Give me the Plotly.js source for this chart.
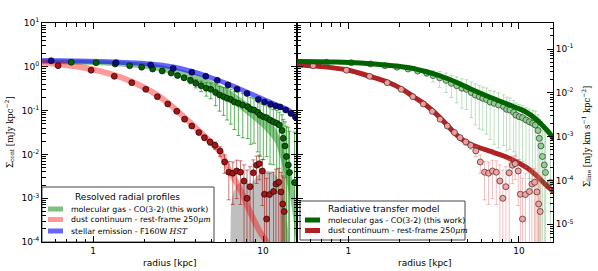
<!DOCTYPE html>
<html>
<head>
<meta charset="utf-8">
<script src="https://cdn.plot.ly/plotly-3.0.1.min.js"></script>
<style>html,body{margin:0;padding:0;background:#fff;}#chart{width:598px;height:271px;}</style>
</head>
<body>
<div id="chart"></div>
<script>
// ---------------- data ----------------
// stellar emission (F160W HST), left panel, continuum units
var stellarR = [0.566, 1.365, 2.18, 2.96, 3.81, 4.60, 5.38, 6.22, 7.03, 8.05, 9.38, 10.2, 11.07, 11.85, 12.6, 13.6, 14.6, 15.5];
var stellarS = [1.38, 1.24, 1.10, 0.92, 0.75, 0.61, 0.49, 0.384, 0.308, 0.246, 0.179, 0.157, 0.14, 0.127, 0.121, 0.103, 0.086, 0.071];
var stellarFitR = [0.501, 1.099, 2.165, 2.96, 3.72, 4.55, 5.59, 6.88, 8.39, 10.27, 12.6, 14.4, 15.85];
var stellarFitS = [1.393, 1.321, 1.159, 0.989, 0.802, 0.633, 0.474, 0.346, 0.2455, 0.1746, 0.124, 0.098, 0.0678];

// molecular gas CO(3-2) profile
var coR = [0.743, 1.041, 1.347, 1.64, 1.93, 2.24, 2.55, 2.88, 3.14, 3.43, 3.74, 4.02, 4.32, 4.63, 4.93, 5.26, 5.55, 5.86, 6.14, 6.46, 6.78, 7.16, 7.60, 8.13, 8.47, 8.85, 9.31, 9.60, 10.04, 10.5, 11.0, 11.5, 12.04, 12.47, 12.94, 13.16, 13.47, 13.75, 14.09, 14.32, 15.32];
var coS = [1.27, 1.24, 1.16, 1.06, 0.98, 0.89, 0.80, 0.72, 0.63, 0.56, 0.49, 0.42, 0.37, 0.324, 0.306, 0.259, 0.227, 0.208, 0.191, 0.179, 0.157, 0.147, 0.134, 0.123, 0.107, 0.103, 0.0914, 0.079, 0.0726, 0.0689, 0.061, 0.0558, 0.0513, 0.0469, 0.0351, 0.0233, 0.0156, 0.00896, 0.00573, 0.00386, 0.00228];
var coErrLeft = [0.025, 0.025, 0.025, 0.03, 0.03, 0.03, 0.04, 0.05, 0.06, 0.07, 0.08, 0.09, 0.10, 0.11, 0.12, 0.13, 0.13, 0.13, 0.13, 0.13, 0.12, 0.12, 0.11, 0.10, 0.09, 0.085, 0.08, 0.07, 0.065, 0.06, 0.055, 0.05, 0.05, 0.045, 0.045, 0.04, 0.04, 0.035, 0.035, 0.03, 0.03];
var coErrRight = [0.03, 0.03, 0.03, 0.03, 0.04, 0.05, 0.08, 0.12, 0.18, 0.22, 0.23, 0.22, 0.22, 0.21, 0.2, 0.19, 0.18, 0.17, 0.155, 0.15, 0.135, 0.13, 0.12, 0.107, 0.095, 0.09, 0.08, 0.07, 0.065, 0.062, 0.056, 0.053, 0.05, 0.05, 0.045, 0.04, 0.04, 0.035, 0.035, 0.03, 0.03];
// CO band (lower / upper envelope)
var coBandR = [0.501, 1.099, 2.165, 3.036, 4.26, 5.22, 6.4, 7.84, 8.97, 10.27, 11.77, 12.6, 13.47, 14.4, 15.2, 15.85];
var coBandLo = [1.159, 1.082, 0.868, 0.65, 0.416, 0.273, 0.1614, 0.0881, 0.0579, 0.0361, 0.0187, 0.00873, 0.00321, 0.00106, 0.000271, 0.0000455];
var coBandHi = [1.507, 1.407, 1.19, 0.939, 0.633, 0.438, 0.288, 0.1656, 0.1146, 0.0753, 0.0411, 0.0225, 0.0102, 0.00464, 0.0018, 0.000459];

// dust continuum, rest-frame 250 micron
var dustR = [0.622, 0.973, 1.332, 1.689, 2.042, 2.389, 2.75, 3.105, 3.453, 3.807, 4.19, 4.52, 4.88, 5.22, 5.59, 5.94, 6.29, 6.64, 7.0, 7.37, 7.73, 8.05, 8.39, 8.77, 9.16, 9.51, 9.91, 10.2, 10.5, 10.92, 11.53, 11.92, 12.37, 12.76, 13.06, 13.33];
var dustS = [1.06, 0.836, 0.607, 0.434, 0.306, 0.208, 0.1415, 0.0964, 0.0636, 0.0445, 0.0316, 0.0241, 0.0192, 0.0161, 0.012, 0.0067, 0.00392, 0.00372, 0.00418, 0.00392, 0.00247, 0.000995, 0.00183, 0.0038, 0.00567, 0.00614, 0.00418, 0.00123, 0.000335, 0.00121, 0.00142, 0.00211, 0.00231, 0.00139, 0.000738, 0.000497];
var dustErr = [0.02, 0.02, 0.015, 0.01, 0.008, 0.006, 0.005, 0.004, 0.003, 0.003, 0.003, 0.003, 0.003, 0.003, 0.003, 0.003, 0.003, 0.003, 0.0032, 0.0032, 0.0033, 0.0034, 0.0034, 0.0037, 0.0035, 0.0035, 0.0035, 0.0025, 0.0025, 0.0025, 0.0025, 0.0025, 0.0025, 0.0025, 0.0025, 0.0025];
var dustFitR = [0.501, 0.64, 0.838, 1.099, 1.442, 1.889, 2.478, 3.036, 3.72, 4.26, 4.88, 5.59, 6.4, 7.33, 8.39, 9.6, 10.5, 11.0];
var dustFitS = [1.25, 1.13, 0.99, 0.80, 0.585, 0.374, 0.205, 0.109, 0.0535, 0.0325, 0.0197, 0.01135, 0.00396, 0.00162, 0.000484, 0.000169, 0.0001, 0.00006];

// grey shaded region (left panel)
var greyR = [6.35, 6.48, 6.7, 7.03, 7.42, 7.83, 8.27, 8.62, 9.1, 9.86, 10.7, 11.5, 12.1, 12.76, 13.47, 14.03, 14.4];
var greyS = [0.00001, 0.0007, 0.00139, 0.002, 0.00234, 0.00247, 0.00211, 0.0022, 0.00305, 0.00396, 0.00418, 0.00396, 0.00305, 0.00154, 0.0006, 0.000188, 0.00001];

// radiative transfer model (right panel)
var rtCoR = [0.501, 0.784, 1.177, 1.766, 2.315, 2.837, 3.477, 4.26, 5.22, 6.4, 7.84, 9.6, 11.0, 12.6, 14.4, 16.07];
var rtCoS = [0.0519, 0.0506, 0.048, 0.042, 0.0369, 0.0307, 0.0242, 0.01766, 0.01222, 0.00869, 0.00634, 0.00462, 0.00365, 0.00252, 0.00149, 0.000883];
var rtDustR = [0.501, 0.684, 0.987, 1.347, 1.695, 2.078, 2.411, 2.762, 3.165, 3.624, 4.09, 4.56, 5.08, 5.82, 6.84, 8.16, 9.73, 11.3, 12.94, 14.4, 16.07];
var rtDustS = [1.099, 1.016, 0.845, 0.601, 0.45, 0.306, 0.2076, 0.1468, 0.0944, 0.0564, 0.0342, 0.0231, 0.01774, 0.01438, 0.01165, 0.00919, 0.0067, 0.00477, 0.00305, 0.002, 0.00139];

// tick labels
var xTickVals = [1, 10];
var xTickText = ['1', '10'];
var yContTickVals = [1e-4, 1e-3, 1e-2, 1e-1, 1e0, 1e1];
var yContTickText = ['10<sup>-4</sup>', '10<sup>-3</sup>', '10<sup>-2</sup>', '10<sup>-1</sup>', '10<sup>0</sup>', '10<sup>1</sup>'];
var yLineTickVals = [1e-5, 1e-4, 1e-3, 1e-2, 1e-1];
var yLineTickText = ['10<sup>-5</sup>', '10<sup>-4</sup>', '10<sup>-3</sup>', '10<sup>-2</sup>', '10<sup>-1</sup>'];

// ---------------- helpers ----------------
function minorLog(lo, hi) {
  var out = [];
  for (var e = lo; e <= hi; e++) {
    for (var m = 2; m <= 9; m++) out.push(m * Math.pow(10, e));
  }
  return out;
}
var W = 598, H = 271;
function px(x) { return x / W; }
function py(y) { return 1 - y / H; }

var FONT = 'DejaVu Sans';
var SERIF = 'DejaVu Serif';

var xMinor = minorLog(-1, 1);
var xBase = {
  type: 'log', range: [-0.301, 1.2], showline: true, linecolor: '#000', linewidth: 1,
  mirror: 'ticks', ticks: 'inside', ticklen: 6, tickwidth: 1, tickcolor: '#000',
  tickmode: 'array', tickvals: xTickVals, ticktext: xTickText,
  tickfont: {family: FONT, size: 9, color: '#000'},
  minor: {tickmode: 'array', tickvals: xMinor, ticks: 'inside', ticklen: 3.5, tickwidth: 1, tickcolor: '#000'},
  showgrid: false, zeroline: false
};
function clone(o, extra) { var c = JSON.parse(JSON.stringify(o)); for (var k in extra) c[k] = extra[k]; return c; }

var yDom = [29 / H, 248 / H];
var yBase = {
  type: 'log', range: [-4, 1], domain: yDom, showline: true, linecolor: '#000', linewidth: 1,
  ticks: 'inside', ticklen: 6, tickwidth: 1, tickcolor: '#000',
  tickmode: 'array', tickvals: yContTickVals, ticktext: yContTickText,
  tickfont: {family: FONT, size: 9, color: '#000'},
  minor: {tickmode: 'array', tickvals: minorLog(-4, 0), ticks: 'inside', ticklen: 3.5, tickwidth: 1, tickcolor: '#000'},
  showgrid: false, zeroline: false
};

var traces = [];
// ---- left panel ----
traces.push({x: greyR, y: greyS, xaxis: 'x', yaxis: 'y', mode: 'lines', fill: 'toself',
  fillcolor: 'rgba(128,128,128,0.5)', line: {width: 0}, hoverinfo: 'skip', showlegend: false});
traces.push({x: coBandR, y: coBandLo, xaxis: 'x', yaxis: 'y', mode: 'lines', line: {width: 0, shape: 'spline'},
  hoverinfo: 'skip', showlegend: false});
traces.push({x: coBandR, y: coBandHi, xaxis: 'x', yaxis: 'y', mode: 'lines', fill: 'tonexty',
  fillcolor: 'rgba(0,128,0,0.45)', line: {width: 0, shape: 'spline'}, hoverinfo: 'skip', showlegend: false});
traces.push({x: stellarFitR, y: stellarFitS, xaxis: 'x', yaxis: 'y', mode: 'lines',
  line: {color: 'rgba(0,0,255,0.6)', width: 5, shape: 'spline'}, showlegend: false});
traces.push({x: dustFitR, y: dustFitS, xaxis: 'x', yaxis: 'y', mode: 'lines',
  line: {color: 'rgba(255,0,0,0.4)', width: 6, shape: 'spline'}, showlegend: false});
traces.push({x: coR, y: coS, xaxis: 'x', yaxis: 'y', mode: 'markers',
  marker: {size: 6, color: '#006400', line: {color: '#000', width: 0.6}},
  error_y: {type: 'data', array: coErrLeft, visible: true, color: 'rgba(0,140,0,0.65)', thickness: 1, width: 2},
  showlegend: false});
traces.push({x: dustR, y: dustS, xaxis: 'x', yaxis: 'y', mode: 'markers',
  marker: {size: 6, color: '#a51515', line: {color: '#000', width: 0.6}},
  error_y: {type: 'data', array: dustErr, visible: true, color: 'rgba(175,25,25,0.6)', thickness: 1, width: 2},
  showlegend: false});
traces.push({x: stellarR, y: stellarS, xaxis: 'x', yaxis: 'y', mode: 'markers',
  marker: {size: 6, color: '#0a0a8c', line: {color: '#000', width: 0.6}}, showlegend: false});

// ---- right panel ----
traces.push({x: rtCoR, y: rtCoS, xaxis: 'x2', yaxis: 'y3', mode: 'lines',
  line: {color: '#006400', width: 5, shape: 'spline'}, showlegend: false});
traces.push({x: rtDustR, y: rtDustS, xaxis: 'x2', yaxis: 'y2', mode: 'lines',
  line: {color: '#b22222', width: 5, shape: 'spline'}, showlegend: false});
traces.push({x: coR, y: coS, xaxis: 'x2', yaxis: 'y2', mode: 'markers',
  marker: {size: 6, color: 'rgba(140,205,140,0.9)', line: {color: '#2a3a2a', width: 0.7}},
  error_y: {type: 'data', array: coErrRight, visible: true, color: 'rgba(70,170,70,0.35)', thickness: 1, width: 2},
  showlegend: false});
traces.push({x: dustR, y: dustS, xaxis: 'x2', yaxis: 'y2', mode: 'markers',
  marker: {size: 6, color: 'rgba(244,160,160,0.95)', line: {color: '#3a2a2a', width: 0.7}},
  error_y: {type: 'data', array: dustErr, visible: true, color: 'rgba(240,110,110,0.45)', thickness: 1, width: 2},
  showlegend: false});

// ---------------- layout ----------------
var shapes = [];
var ann = [];
function rect(x0, y0, x1, y1, fill, lineColor, lw) {
  shapes.push({type: 'rect', xref: 'paper', yref: 'paper', x0: px(x0), x1: px(x1), y0: py(y1), y1: py(y0),
    fillcolor: fill, line: {color: lineColor || 'rgba(0,0,0,0)', width: lw || 0}, layer: 'below'});
}
function text(t, x, y, size, anchor, fam, angle) {
  ann.push({text: t, xref: 'paper', yref: 'paper', x: px(x), y: py(y), showarrow: false,
    xanchor: anchor || 'left', yanchor: 'middle', textangle: angle || 0,
    font: {family: fam || FONT, size: size, color: '#000'}});
}
var mu = '<span style="font-family:DejaVu Serif"><i>μm</i></span>';
// left legend
rect(42, 187, 214, 242, 'rgba(255,255,255,1)', '#444', 1);
text('Resolved radial profiles', 127, 197, 9, 'center');
rect(48, 206.5, 63, 211.5, 'rgba(0,128,0,0.5)');
rect(48, 217, 63, 222, 'rgba(255,0,0,0.4)');
rect(48, 228.5, 63, 233.5, 'rgba(0,0,255,0.6)');
text('molecular gas - CO(3-2) (this work)', 69, 209, 7.8);
text('dust continuum - rest-frame 250' + mu, 69, 219.5, 7.8);
text('stellar emission - F160W <span style="font-family:DejaVu Serif"><i>HST</i></span>', 69, 231, 7.8);
// right legend
rect(300, 201, 465, 240, 'rgba(255,255,255,1)', '#444', 1);
text('Radiative transfer model', 383, 208.5, 9, 'center');
rect(305, 217.5, 320, 222.5, '#006400');
rect(305, 228, 320, 233, '#b22222');
text('molecular gas - CO(3-2) (this work)', 326, 220, 7.8);
text('dust continuum - rest-frame 250' + mu, 326, 230.5, 7.8);
// axis titles
text('radius [kpc]', 169.5, 263, 9, 'center');
text('radius [kpc]', 425, 263, 9, 'center');
text('Σ<sub>cont</sub> [mJy kpc<sup>−2</sup>]', 9, 132, 8.5, 'center', SERIF, -90);
text('Σ<sub>line</sub> [mJy km s<sup>−1</sup> kpc<sup>−2</sup>]', 586, 137, 8.5, 'center', SERIF, -90);

var layout = {
  width: W, height: H, margin: {l: 0, r: 0, t: 0, b: 0},
  paper_bgcolor: '#fff', plot_bgcolor: 'rgba(0,0,0,0)', showlegend: false,
  xaxis: clone(xBase, {domain: [42 / W, 297 / W], anchor: 'y'}),
  xaxis2: clone(xBase, {domain: [297 / W, 553 / W], anchor: 'y2'}),
  yaxis: clone(yBase, {anchor: 'x', mirror: 'ticks'}),
  yaxis2: clone(yBase, {anchor: 'x2', side: 'left', mirror: false, showticklabels: false}),
  yaxis3: clone(yBase, {anchor: 'x2', overlaying: 'y2', side: 'right', mirror: false,
    range: [-5.406, -0.406], tickvals: yLineTickVals, ticktext: yLineTickText,
    minor: {tickmode: 'array', tickvals: minorLog(-6, -1), ticks: 'inside', ticklen: 3.5, tickwidth: 1, tickcolor: '#000'}}),
  shapes: shapes, annotations: ann
};

Plotly.newPlot('chart', traces, layout, {displayModeBar: false, staticPlot: true});
</script>
</body>
</html>
